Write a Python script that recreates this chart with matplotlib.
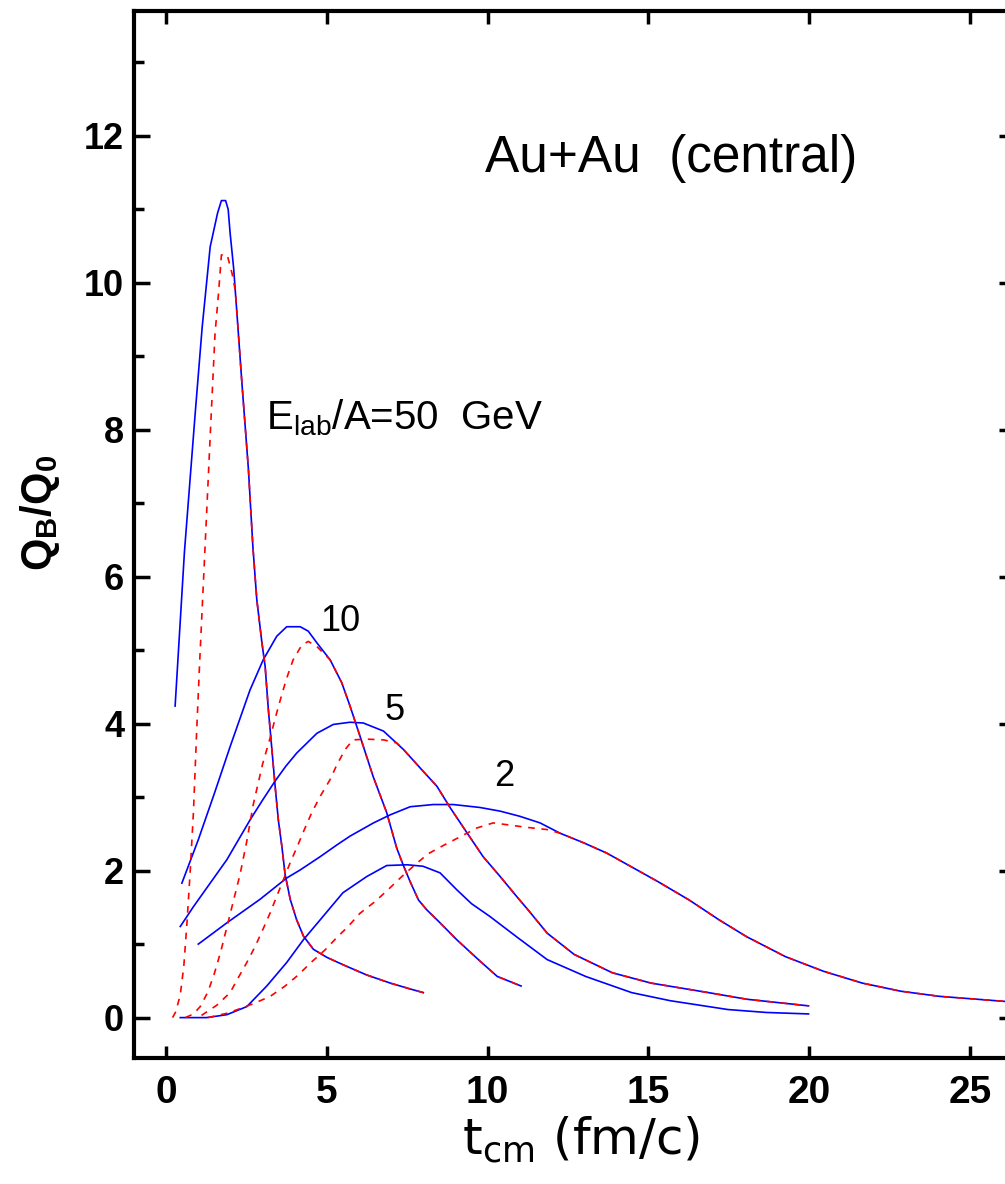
import numpy as np
import matplotlib.pyplot as plt
from matplotlib.ticker import MultipleLocator

# blue solid curves (t_cm, Q_B/Q_0)
b50_x = [0.28, 0.57, 0.9, 1.12, 1.37, 1.6, 1.72, 1.85, 1.93, 1.99, 2.1, 2.2, 2.35, 2.56, 2.7, 2.82, 2.98,
         3.08, 3.18, 3.29, 3.39, 3.49, 3.6, 3.7, 3.86, 4.06, 4.27, 4.58, 5.0, 5.5, 6.24, 6.97, 7.59, 8.0]
b50_y = [4.24, 6.34, 8.2, 9.39, 10.49, 10.95, 11.12, 11.12, 11.0, 10.68, 10.2, 9.6, 8.68, 7.46, 6.4, 5.69, 5.1,
         4.78, 4.19, 3.65, 3.15, 2.69, 2.33, 1.95, 1.61, 1.33, 1.11, 0.93, 0.82, 0.72, 0.58, 0.47, 0.39, 0.34]

b10_x = [0.49, 1.0, 1.5, 2.0, 2.61, 3.02, 3.44, 3.75, 4.17, 4.42, 4.69, 5.1, 5.46, 5.72, 6.03, 6.44, 6.86,
         7.17, 7.37, 7.59, 7.85, 8.1, 8.52, 9.04, 9.76, 10.3, 11.04]
b10_y = [1.83, 2.42, 3.05, 3.7, 4.46, 4.87, 5.19, 5.32, 5.32, 5.26, 5.1, 4.87, 4.56, 4.24, 3.83, 3.28, 2.79,
         2.31, 2.08, 1.85, 1.6, 1.47, 1.29, 1.06, 0.77, 0.56, 0.43]

b5_x = [0.44, 0.85, 1.37, 1.89, 2.25, 2.61, 3.0, 3.39, 3.72, 4.06, 4.69, 5.2, 5.72, 6.13, 6.76, 7.38, 8.0,
        8.42, 8.83, 9.35, 9.86, 10.39, 10.9, 11.25, 11.85, 12.69, 13.88, 15.08, 16.87, 18.06, 19.98]
b5_y = [1.24, 1.51, 1.83, 2.15, 2.42, 2.69, 2.96, 3.22, 3.42, 3.6, 3.87, 3.99, 4.02, 4.01, 3.9, 3.65, 3.35,
        3.15, 2.86, 2.52, 2.19, 1.92, 1.65, 1.47, 1.15, 0.86, 0.61, 0.47, 0.34, 0.25, 0.16]

b2_x = [1.0, 1.89, 2.92, 3.75, 4.17, 4.79, 5.31, 5.72, 6.45, 6.97, 7.59, 8.31, 8.93, 9.76, 10.39, 11.0,
        11.63, 12.25, 12.98, 13.7, 14.48, 15.3, 16.27, 17.2, 18.06, 19.26, 20.45, 21.65, 22.84, 24.04, 26.4]
b2_y = [1.0, 1.29, 1.61, 1.9, 2.01, 2.19, 2.35, 2.47, 2.65, 2.76, 2.87, 2.9, 2.9, 2.86, 2.81, 2.74,
        2.65, 2.51, 2.38, 2.24, 2.05, 1.85, 1.6, 1.33, 1.1, 0.83, 0.63, 0.47, 0.36, 0.29, 0.21]

blow_x = [0.44, 1.26, 1.89, 2.51, 3.13, 3.75, 4.27, 4.79, 5.5, 6.24, 6.86, 7.5, 7.99, 8.52, 9.04, 9.5,
          10.06, 10.9, 11.85, 13.05, 14.48, 15.68, 17.47, 18.67, 19.98]
blow_y = [0.0, 0.0, 0.04, 0.15, 0.43, 0.75, 1.06, 1.33, 1.7, 1.92, 2.07, 2.08, 2.06, 1.97, 1.74, 1.55,
          1.38, 1.1, 0.79, 0.56, 0.34, 0.23, 0.11, 0.07, 0.05]

# red dashed curves: rising part, afterwards they follow the blue curve
r50_x = [0.2, 0.3, 0.44, 0.55, 0.65, 0.75, 0.85, 0.95, 1.05, 1.2, 1.38, 1.52, 1.63, 1.72, 1.9, 2.05, 2.15]
r50_y = [0.0, 0.08, 0.31, 0.7, 1.3, 2.0, 2.8, 3.9, 4.9, 6.3, 8.0, 9.3, 9.86, 10.38, 10.38, 10.13, 9.9]

r10_x = [0.6, 0.85, 1.06, 1.3, 1.5, 1.7, 1.9, 2.1, 2.3, 2.5, 2.71, 3.0, 3.23, 3.44, 3.6, 3.75, 3.95,
         4.22, 4.42, 4.69]
r10_y = [0.0, 0.05, 0.15, 0.35, 0.6, 0.9, 1.25, 1.6, 1.95, 2.38, 2.9, 3.45, 3.8, 4.15, 4.4, 4.62, 4.87,
         5.07, 5.12, 5.05]

r5_x = [1.1, 1.58, 1.99, 2.24, 2.51, 2.77, 3.03, 3.24, 3.44, 3.65, 3.86, 4.08, 4.3, 4.53, 4.79, 5.1,
        5.31, 5.57, 5.81, 6.24, 6.76, 7.17]
r5_y = [0.03, 0.17, 0.34, 0.54, 0.75, 0.97, 1.22, 1.43, 1.65, 1.88, 2.11, 2.33, 2.56, 2.79, 3.01, 3.24,
        3.44, 3.65, 3.78, 3.79, 3.78, 3.74]

r2_x = [1.3, 1.9, 2.35, 2.77, 3.24, 3.7, 4.11, 4.48, 4.94, 5.31, 5.66, 6.03, 6.5, 6.9, 7.33, 7.74, 8.15,
        8.61, 9.14, 9.66, 10.17, 10.7, 11.2, 11.84]
r2_y = [0.0, 0.06, 0.13, 0.2, 0.29, 0.43, 0.58, 0.74, 0.92, 1.09, 1.24, 1.42, 1.58, 1.74, 1.92, 2.08, 2.23,
        2.34, 2.46, 2.58, 2.65, 2.62, 2.59, 2.56]

blue = [(b50_x, b50_y), (b10_x, b10_y), (b5_x, b5_y), (b2_x, b2_y), (blow_x, blow_y)]
red = [(r50_x, r50_y, b50_x, b50_y), (r10_x, r10_y, b10_x, b10_y),
       (r5_x, r5_y, b5_x, b5_y), (r2_x, r2_y, b2_x, b2_y)]

fig = plt.figure(figsize=(10.05, 11.84), dpi=100)
ax = fig.add_axes([0.1333, 0.1064, 0.8766, 0.8843])

for bx, by in blue:
    ax.plot(bx, by, color='#0000ff', lw=1.2, zorder=2)

for rx, ry, bx, by in red:
    bx = np.array(bx)
    by = np.array(by)
    keep = bx > rx[-1]
    xx = np.concatenate([rx, bx[keep]])
    yy = np.concatenate([ry, by[keep]])
    ax.plot(xx, yy, color='#ff0000', lw=1.2, dashes=(4, 4), zorder=3)

ax.set_xlim(-1, 26.4)
ax.set_ylim(-0.55, 13.7)

for s in ax.spines.values():
    s.set_linewidth(3)

ax.set_xticks([0, 5, 10, 15, 20, 25])
ax.yaxis.set_major_locator(MultipleLocator(2))
ax.yaxis.set_minor_locator(MultipleLocator(1))
ax.set_yticks([0, 2, 4, 6, 8, 10, 12])
ax.tick_params(which='both', direction='in', top=True, right=True, width=2.5)
ax.tick_params(axis='x', which='major', length=9, pad=12)
ax.tick_params(axis='y', which='major', length=11.5, pad=7)
ax.tick_params(axis='y', which='minor', length=7)

for lab in ax.get_xticklabels():
    lab.set_family(['Liberation Sans Narrow', 'Liberation Sans'])
    lab.set_fontweight('bold')
    lab.set_fontsize(28)
for lab in ax.get_yticklabels():
    lab.set_family('Liberation Sans')
    lab.set_fontweight('bold')
    lab.set_fontsize(26)

ax.set_xlabel(r'$\mathregular{t_{cm}}$ (fm/c)', fontsize=36, family='DejaVu Sans',
              va='center')
ax.xaxis.set_label_coords(0.507, -0.078)
ax.set_ylabel(r'$\mathregular{Q_B/Q_0}$', fontsize=30, family='Liberation Sans',
              fontweight='bold', va='center')
ax.yaxis.set_label_coords(-0.107, 0.521)

ax.text(9.92, 11.51, 'Au+Au  (central)', fontsize=37, family='Liberation Sans',
        ha='left', va='baseline')
ax.text(3.11, 8.0, r'$\mathregular{E_{lab}}$/A=50  GeV', fontsize=29, family='Liberation Sans',
        ha='left', va='baseline')
ax.text(5.41, 5.39, '10', fontsize=26, family=['Liberation Sans Narrow', 'Liberation Sans'],
        ha='center', va='center')
ax.text(7.09, 4.18, '5', fontsize=26, family=['Liberation Sans Narrow', 'Liberation Sans'],
        ha='center', va='center')
ax.text(10.51, 3.28, '2', fontsize=26, family=['Liberation Sans Narrow', 'Liberation Sans'],
        ha='center', va='center')

fig.savefig('out.png', dpi=100)
